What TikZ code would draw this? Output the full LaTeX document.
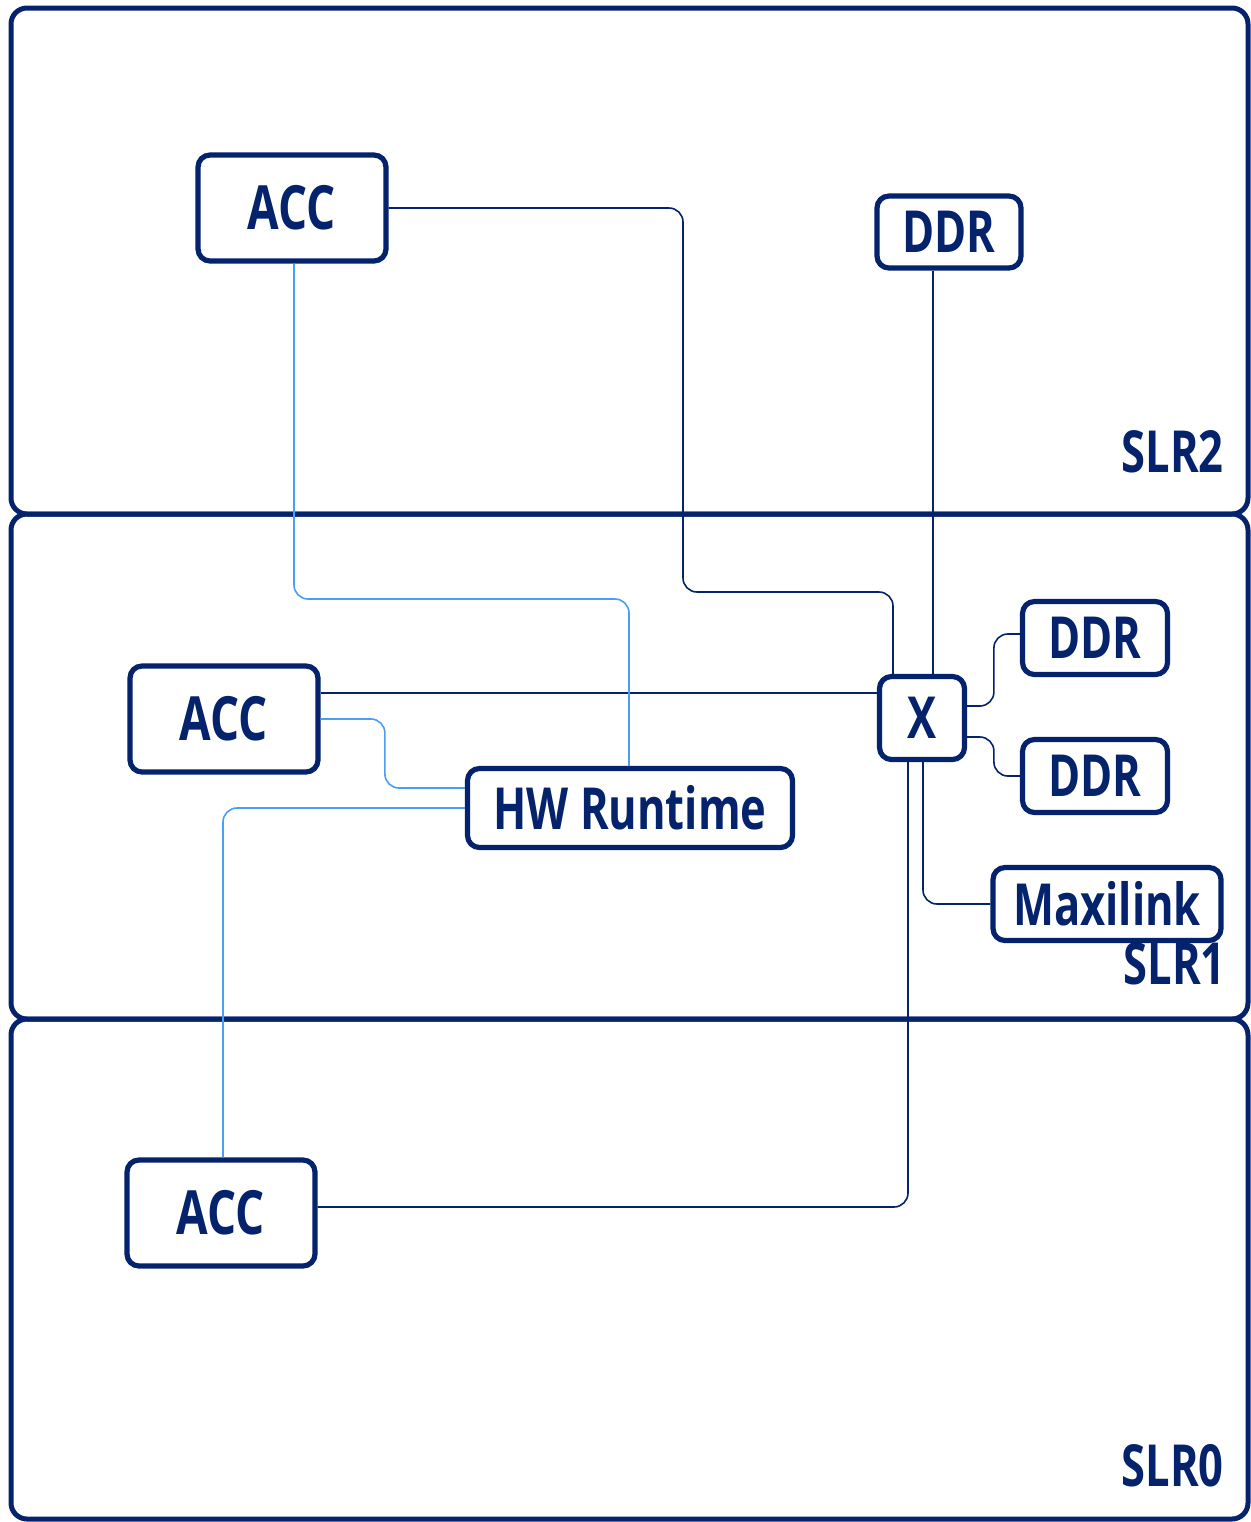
\documentclass[tikz,border=0pt]{standalone}
\usepackage{fontspec}
\setmainfont[FakeStretch=0.75]{Open Sans}
\usetikzlibrary{calc}

\definecolor{navy}{HTML}{05236C}
\definecolor{rtblue}{HTML}{4A9EF5}

\begin{document}
\begin{tikzpicture}[x=0.5pt, y=-0.5pt,
    slr/.style={draw=navy, line width=2.5pt, rounded corners=8pt},
    slrlabel/.style={anchor=base east, inner sep=0pt, text=navy, font=\fontsize{29}{32}\selectfont\bfseries},
    blk/.style={draw=navy, line width=2.6pt, rounded corners=6pt, fill=white, text=navy, inner sep=0pt, font=\fontsize{29}{32}\selectfont\bfseries},
    accblk/.style={blk, minimum width=94pt, minimum height=53pt, font=\fontsize{30.5}{34}\selectfont\bfseries},
    link/.style={navy, line width=0.8pt, rounded corners=7pt},
    rtlink/.style={rtblue, line width=0.8pt, rounded corners=7pt}]

\useasboundingbox (0,0) rectangle (1251,1522);

% super logic regions
\draw[slr] (11,8) rectangle (1248,514);
\draw[slr] (11,514) rectangle (1248,1019);
\draw[slr] (11,1019) rectangle (1248,1519);
\node[slrlabel] (slr2) at (1224,472) {SLR2};
\node[slrlabel] (slr1) at (1226,984) {SLR1};
\node[slrlabel] (slr0) at (1224,1486) {SLR0};

% blocks
\node[accblk] (accT) at (292,208) {ACC};
\node[blk, minimum width=72pt, minimum height=36pt] (ddrT) at (949,232) {DDR};
\node[accblk] (accM) at (224,719) {ACC};
\node[blk, minimum width=162.5pt, minimum height=39.5pt] (hw) at (630,808) {HW Runtime};
\node[blk, minimum width=42.5pt, minimum height=41.5pt] (X) at (922,718) {X};
\node[blk, minimum width=72.5pt, minimum height=36.5pt] (ddr1) at (1095,638) {DDR};
\node[blk, minimum width=72.5pt, minimum height=36.5pt] (ddr2) at (1095,776) {DDR};
\node[blk, minimum width=114pt, minimum height=36.5pt] (mxl) at (1107,904) {Maxilink};
\node[accblk] (accB) at (221,1213) {ACC};

% connections to the crossbar
\draw[link] (accT.east) -| (683,592) -| ($(X.north)+(-29,0)$);
\draw[link] ($(ddrT.south)+(-16,0)$) -- ($(X.north)+(11,0)$);
\coordinate (accMx) at ($(accM.east)+(0,-26)$);
\draw[link] (accMx) -- (accMx -| X.west);
\draw[link] ($(X.east)+(0,-12)$) -| ($(ddr1.west)+(-26,-4)$) -- ($(ddr1.west)+(0,-4)$);
\draw[link] ($(X.east)+(0,19)$) -| ($(ddr2.west)+(-26,0)$) -- (ddr2.west);
\draw[link] ($(X.south)+(1,0)$) |- (mxl.west);
\draw[link] ($(X.south)+(-14,0)$) |- ($(accB.east)+(0,-6)$);

% runtime links
\draw[rtlink] ($(accT.south)+(2,0)$) |- (629,599) -- ($(hw.north)+(-1,0)$);
\draw[rtlink] (accM.east) -| ($(hw.west)+(-80,-20)$) -- ($(hw.west)+(0,-20)$);
\draw[rtlink] (hw.west) -| ($(accB.north)+(2,0)$);
\end{tikzpicture}
\end{document}
